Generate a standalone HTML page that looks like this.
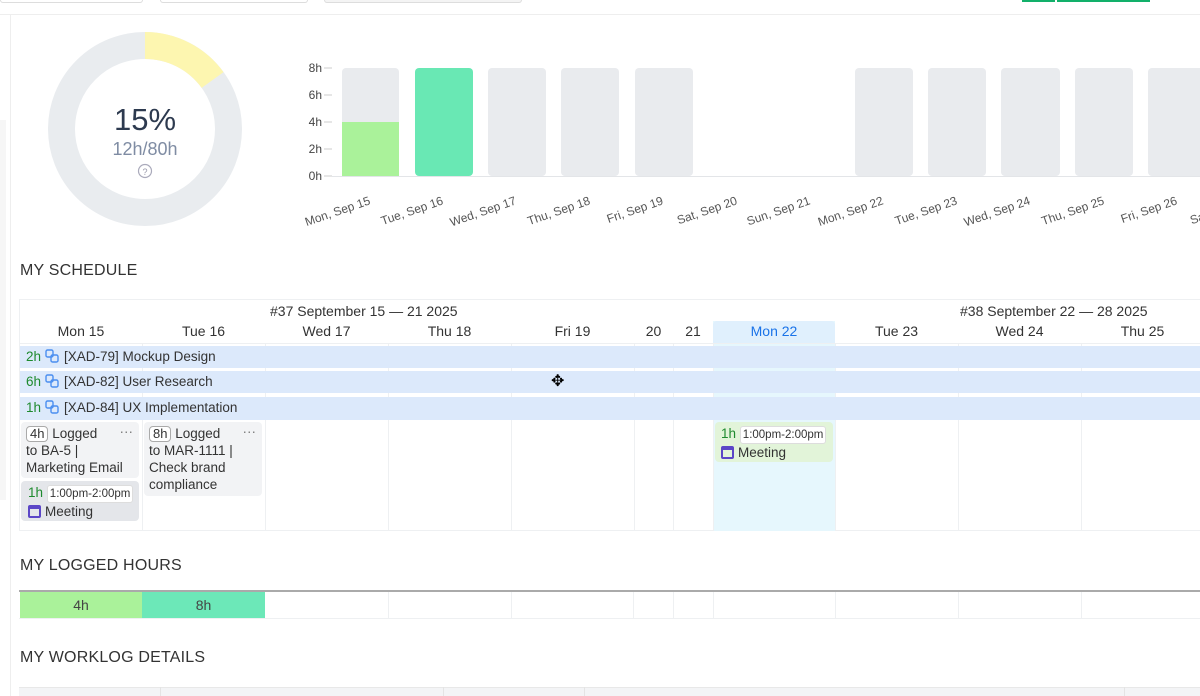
<!DOCTYPE html>
<html><head><meta charset="utf-8"><style>
*{margin:0;padding:0;box-sizing:border-box}
body{width:1200px;height:696px;overflow:hidden;background:#fff;font-family:"Liberation Sans",sans-serif;color:#344054;position:relative}
.a{position:absolute}
.h{font-size:16px;color:#333;letter-spacing:0.2px}
.dh{font-size:14px;color:#333;text-align:center;top:323px}
.vl{position:absolute;width:1px;background:#eef0f2}
.bar{position:absolute;left:20px;width:1180px;height:22px;background:#dce9fb;font-size:13.5px;color:#333;line-height:22px;padding-left:6px;z-index:2}
.bar b{color:#1e8a2e;font-weight:normal;margin-right:4px}
.ic{display:inline-block;width:14px;height:14px;vertical-align:-2px;margin-right:5px}
.card{position:absolute;background:#f2f3f5;border-radius:4px;font-size:13.5px;color:#333;line-height:17px;padding:3px 5px;z-index:2}
.pill{display:inline-block;border:1px solid #aaa;border-radius:4px;padding:0 3px;line-height:14px;background:#fff;font-size:13px}
.tm{display:inline-block;border:1px solid #ddd;border-radius:3px;background:#fff;font-size:11.5px;padding:0 2px;line-height:16px}
.g{color:#1e8a2e}
.cal{display:inline-block;width:13px;height:13px;border:2px solid #5b46c7;border-top-width:4px;border-radius:2px;vertical-align:-2px;margin-right:4px}
</style></head><body>
<div class="a" style="left:0;top:0;width:143px;height:3px;border:1px solid #ddd;border-top:none;border-radius:0 0 4px 4px"></div>
<div class="a" style="left:160px;top:0;width:148px;height:3px;border:1px solid #ddd;border-top:none;border-radius:0 0 4px 4px"></div>
<div class="a" style="left:324px;top:0;width:198px;height:3px;border:1px solid #ddd;border-top:none;border-radius:0 0 4px 4px;background:#f4f4f4"></div>
<div class="a" style="left:1022px;top:0;width:33px;height:2px;background:#12b06a"></div>
<div class="a" style="left:1057px;top:0;width:93px;height:2px;background:#12b06a"></div>
<div class="a" style="left:0;top:14px;width:1200px;height:1px;background:#eee"></div>
<div class="a" style="left:10px;top:15px;width:1px;height:681px;background:#eee"></div>
<div class="a" style="left:0;top:120px;width:6px;height:380px;background:#f6f6f6"></div>

<svg class="a" style="left:0;top:0" width="1200" height="240">
<circle cx="145" cy="129" r="83.5" fill="none" stroke="#e9ecef" stroke-width="27"/>
<path d="M145 45.5 A83.5 83.5 0 0 1 212.6 80" fill="none" stroke="#fdf6b0" stroke-width="27"/>
<text x="145" y="130" font-size="31" fill="#2d3a4f" text-anchor="middle" font-family="Liberation Sans">15%</text>
<text x="145" y="155" font-size="18" fill="#7f8ca3" text-anchor="middle" font-family="Liberation Sans">12h/80h</text>
<circle cx="145" cy="171" r="6.5" fill="none" stroke="#aab" stroke-width="1.2"/>
<text x="145" y="175" font-size="9" fill="#99a" text-anchor="middle" font-family="Liberation Sans">?</text>
<g font-size="12" fill="#444" text-anchor="end" font-family="Liberation Sans">
<text x="322" y="72">8h</text><text x="322" y="99">6h</text><text x="322" y="126">4h</text><text x="322" y="153">2h</text><text x="322" y="180">0h</text>
</g>
<g stroke="#ccc"><line x1="324" y1="68" x2="332" y2="68"/><line x1="324" y1="95" x2="332" y2="95"/><line x1="324" y1="122" x2="332" y2="122"/><line x1="324" y1="149" x2="332" y2="149"/><line x1="324" y1="176" x2="332" y2="176"/></g>
<line x1="332" y1="176.5" x2="1200" y2="176.5" stroke="#e3e5e8"/>
<g fill="#e9ebee">
<rect x="342" y="68" width="57" height="108" rx="4"/>
<rect x="488" y="68" width="58" height="108" rx="4"/>
<rect x="561" y="68" width="58" height="108" rx="4"/>
<rect x="635" y="68" width="58" height="108" rx="4"/>
<rect x="855" y="68" width="58" height="108" rx="4"/>
<rect x="928" y="68" width="58" height="108" rx="4"/>
<rect x="1001" y="68" width="59" height="108" rx="4"/>
<rect x="1075" y="68" width="58" height="108" rx="4"/>
<rect x="1148" y="68" width="58" height="108" rx="4"/>
</g>
<rect x="342" y="122" width="57" height="54" fill="#aaf29a"/>
<rect x="415" y="68" width="58" height="108" rx="4" fill="#69e8b4"/>
<g font-size="12" fill="#555" text-anchor="end" font-family="Liberation Sans">
<text transform="translate(371,204) rotate(-19)">Mon, Sep 15</text>
<text transform="translate(444,204) rotate(-19)">Tue, Sep 16</text>
<text transform="translate(517,204) rotate(-19)">Wed, Sep 17</text>
<text transform="translate(591,204) rotate(-19)">Thu, Sep 18</text>
<text transform="translate(664,204) rotate(-19)">Fri, Sep 19</text>
<text transform="translate(738,204) rotate(-19)">Sat, Sep 20</text>
<text transform="translate(811,204) rotate(-19)">Sun, Sep 21</text>
<text transform="translate(884,204) rotate(-19)">Mon, Sep 22</text>
<text transform="translate(958,204) rotate(-19)">Tue, Sep 23</text>
<text transform="translate(1031,204) rotate(-19)">Wed, Sep 24</text>
<text transform="translate(1105,204) rotate(-19)">Thu, Sep 25</text>
<text transform="translate(1178,204) rotate(-19)">Fri, Sep 26</text>
<text transform="translate(1251,204) rotate(-19)">Sat, Sep 27</text>
</g>
</svg>

<div class="a h" style="left:20px;top:262px">MY SCHEDULE</div>
<div class="a" style="left:19px;top:299px;width:1181px;height:232px;border:1px solid #eef0f2;border-right:none"></div>
<div class="a" style="left:713px;top:321px;width:122px;height:210px;background:#e6f7fd"></div>
<div class="a" style="left:713px;top:321px;width:122px;height:22px;background:#e0f0fd;border-radius:4px 4px 0 0"></div>
<div class="a" style="left:20px;top:343px;width:1180px;height:1px;background:#eef0f2"></div>
<div class="vl" style="left:142px;top:343px;height:188px"></div>
<div class="vl" style="left:265px;top:343px;height:188px"></div>
<div class="vl" style="left:388px;top:343px;height:188px"></div>
<div class="vl" style="left:511px;top:343px;height:188px"></div>
<div class="vl" style="left:634px;top:343px;height:188px"></div>
<div class="vl" style="left:673px;top:343px;height:188px"></div>
<div class="vl" style="left:713px;top:343px;height:188px"></div>
<div class="vl" style="left:835px;top:343px;height:188px"></div>
<div class="vl" style="left:958px;top:343px;height:188px"></div>
<div class="vl" style="left:1081px;top:343px;height:188px"></div>
<div class="a" style="left:270px;top:303px;font-size:14px;color:#333">#37 September 15 — 21 2025</div>
<div class="a" style="left:960px;top:303px;font-size:14px;color:#333">#38 September 22 — 28 2025</div>
<div class="a dh" style="left:20px;width:122px">Mon 15</div>
<div class="a dh" style="left:142px;width:123px">Tue 16</div>
<div class="a dh" style="left:265px;width:123px">Wed 17</div>
<div class="a dh" style="left:388px;width:123px">Thu 18</div>
<div class="a dh" style="left:511px;width:123px">Fri 19</div>
<div class="a dh" style="left:634px;width:39px">20</div>
<div class="a dh" style="left:673px;width:40px">21</div>
<div class="a dh" style="left:713px;width:122px;color:#1a73e8">Mon 22</div>
<div class="a dh" style="left:835px;width:123px">Tue 23</div>
<div class="a dh" style="left:958px;width:123px">Wed 24</div>
<div class="a dh" style="left:1081px;width:123px">Thu 25</div>

<div class="bar" style="top:346px"><b>2h</b><svg class="ic" viewBox="0 0 14 14"><rect x="1" y="1" width="7" height="7" rx="1.5" fill="none" stroke="#4a8ef0" stroke-width="1.4"/><rect x="6" y="6" width="7" height="7" rx="1.5" fill="none" stroke="#4a8ef0" stroke-width="1.4"/></svg>[XAD-79] Mockup Design</div>
<div class="bar" style="top:371px"><b>6h</b><svg class="ic" viewBox="0 0 14 14"><rect x="1" y="1" width="7" height="7" rx="1.5" fill="none" stroke="#4a8ef0" stroke-width="1.4"/><rect x="6" y="6" width="7" height="7" rx="1.5" fill="none" stroke="#4a8ef0" stroke-width="1.4"/></svg>[XAD-82] User Research</div>
<div class="bar" style="top:397px;height:23px"><b>1h</b><svg class="ic" viewBox="0 0 14 14"><rect x="1" y="1" width="7" height="7" rx="1.5" fill="none" stroke="#4a8ef0" stroke-width="1.4"/><rect x="6" y="6" width="7" height="7" rx="1.5" fill="none" stroke="#4a8ef0" stroke-width="1.4"/></svg>[XAD-84] UX Implementation</div>
<div class="a" style="left:551px;top:371px;font-size:16px;color:#000;z-index:3">✥</div>

<div class="card" style="left:21px;top:422px;width:118px;height:56px"><span class="pill">4h</span> Logged<span style="position:absolute;right:6px;top:1px;color:#777">···</span><br>to BA-5 |<br>Marketing Email</div>
<div class="card" style="left:21px;top:481px;width:118px;height:40px;background:#e4e6ea;padding-left:7px"><span class="g">1h</span> <span class="tm">1:00pm-2:00pm</span><br><span class="cal"></span>Meeting</div>
<div class="card" style="left:144px;top:422px;width:118px;height:74px"><span class="pill">8h</span> Logged<span style="position:absolute;right:6px;top:1px;color:#777">···</span><br>to MAR-1111 |<br>Check brand<br>compliance</div>
<div class="card" style="left:715px;top:422px;width:118px;height:40px;background:#e2f4d9;padding-left:6px"><span class="g">1h</span> <span class="tm">1:00pm-2:00pm</span><br><span class="cal"></span>Meeting</div>

<div class="a h" style="left:20px;top:557px">MY LOGGED HOURS</div>
<div class="a" style="left:19px;top:590px;width:1181px;height:2px;background:#aaa"></div>
<div class="a" style="left:19px;top:592px;width:1181px;height:27px;border-bottom:1px solid #eef0f2"></div>
<div class="a" style="left:20px;top:592px;width:122px;height:26px;background:#aaf29a;text-align:center;font-size:14px;line-height:26px;color:#444">4h</div>
<div class="a" style="left:142px;top:592px;width:123px;height:26px;background:#6ce8b8;text-align:center;font-size:14px;line-height:26px;color:#444">8h</div>
<div class="vl" style="left:388px;top:592px;height:26px"></div>
<div class="vl" style="left:511px;top:592px;height:26px"></div>
<div class="vl" style="left:633px;top:592px;height:26px"></div>
<div class="vl" style="left:673px;top:592px;height:26px"></div>
<div class="vl" style="left:713px;top:592px;height:26px"></div>
<div class="vl" style="left:835px;top:592px;height:26px"></div>
<div class="vl" style="left:958px;top:592px;height:26px"></div>
<div class="vl" style="left:1081px;top:592px;height:26px"></div>

<div class="a h" style="left:20px;top:649px">MY WORKLOG DETAILS</div>
<div class="a" style="left:19px;top:687px;width:1181px;height:9px;background:#f3f4f6;border-top:1px solid #e8e8e8"></div>
<div class="vl" style="left:160px;top:687px;height:9px;background:#e4e4e4"></div>
<div class="vl" style="left:443px;top:687px;height:9px;background:#e4e4e4"></div>
<div class="vl" style="left:584px;top:687px;height:9px;background:#e4e4e4"></div>
<div class="vl" style="left:1124px;top:687px;height:9px;background:#e4e4e4"></div>
</body></html>
